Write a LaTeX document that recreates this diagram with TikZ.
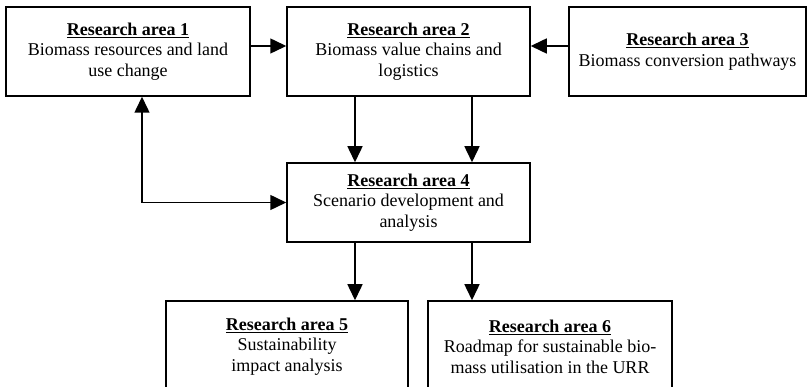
\documentclass[tikz,border=0pt]{standalone}
\usepackage{fontspec}
\setmainfont{Liberation Serif}
\usetikzlibrary{arrows.meta}
\tikzset{
        rabox/.style={draw=black, line width=1.5pt, align=center, inner sep=0pt, font=\fontsize{18}{20.5}\selectfont},
        link/.style={line width=1.5pt, -{Triangle[length=16pt,width=15pt]}},
        dlink/.style={line width=1.5pt, {Triangle[length=16pt,width=15pt]}-{Triangle[length=16pt,width=15pt]}}
          }
\newcommand{\ratitle}[1]{\textbf{\underline{Research area #1}}}

\begin{document}
\begin{tikzpicture}[x=1pt,y=-1pt]
        \clip (0,0) rectangle (807,387);
        \node[rabox, minimum width=244pt, minimum height=89pt] (ra1) at (128,51.5)
          {\ratitle{1}\\Biomass resources and land\\use change};
        \node[rabox, minimum width=243pt, minimum height=89pt] (ra2) at (408.5,51.5)
          {\ratitle{2}\\Biomass value chains and\\logistics};
        \node[rabox, minimum width=237pt, minimum height=89pt] (ra3) at (687.5,51.5)
          {\ratitle{3}\\Biomass conversion pathways};
        \node[rabox, minimum width=243pt, minimum height=79pt] (ra4) at (408.5,202.5)
          {\ratitle{4}\\Scenario development and\\analysis};
        \node[rabox, minimum width=242pt, minimum height=91pt] (ra5) at (287,346.5)
          {\ratitle{5}\\Sustainability\\impact analysis};
        \node[rabox, minimum width=244pt, minimum height=91pt] (ra6) at (550,346.5)
          {\ratitle{6}\\Roadmap for sustainable bio-\\mass utilisation in the URR};
        \draw[link] ([yshift=5.5pt]ra1.east) -- ([yshift=5.5pt]ra2.west);
        \draw[link] ([yshift=5.5pt]ra3.west) -- ([yshift=5.5pt]ra2.east);
        \draw[link] ([xshift=-53.5pt]ra2.south) -- ([xshift=-53.5pt]ra4.north);
        \draw[link] ([xshift=63.5pt]ra2.south) -- ([xshift=63.5pt]ra4.north);
        \draw[dlink] ([xshift=14pt]ra1.south) |- (ra4.west);
        \draw[link] ([xshift=-53.5pt]ra4.south) -- ([xshift=68pt]ra5.north);
        \draw[link] ([xshift=63.5pt]ra4.south) -- ([xshift=-78pt]ra6.north);
      \end{tikzpicture}
\end{document}
